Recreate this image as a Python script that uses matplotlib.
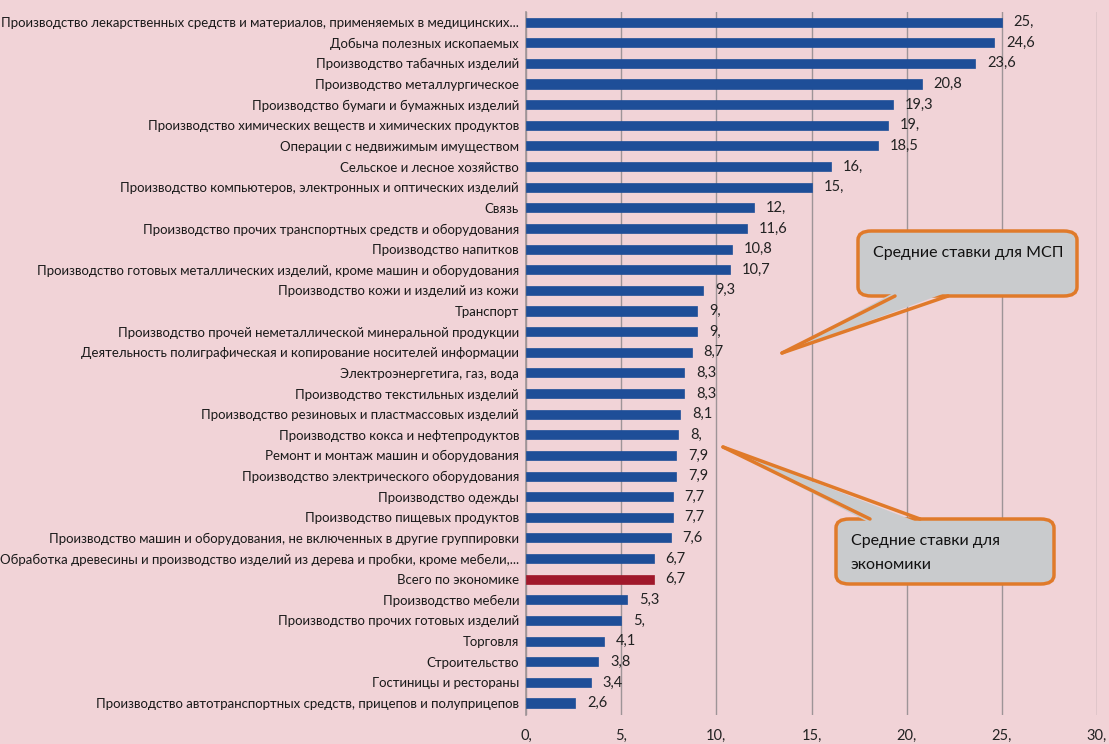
import matplotlib
matplotlib.use("Agg")
import matplotlib.pyplot as plt
import numpy as np
from matplotlib.patches import FancyBboxPatch, Polygon
from matplotlib.lines import Line2D

plt.rcParams['font.family'] = ['Lato', 'DejaVu Sans']

categories = [
    "Производство лекарственных средств и материалов, применяемых в медицинских...",
    "Добыча полезных ископаемых",
    "Производство табачных изделий",
    "Производство металлургическое",
    "Производство бумаги и бумажных изделий",
    "Производство химических веществ и химических продуктов",
    "Операции с недвижимым имуществом",
    "Сельское и лесное хозяйство",
    "Производство компьютеров, электронных и оптических изделий",
    "Связь",
    "Производство прочих транспортных средств и оборудования",
    "Производство напитков",
    "Производство готовых металлических изделий, кроме машин и оборудования",
    "Производство кожи и изделий из кожи",
    "Транспорт",
    "Производство прочей неметаллической минеральной продукции",
    "Деятельность полиграфическая и копирование носителей информации",
    "Электроэнергетига, газ, вода",
    "Производство текстильных изделий",
    "Производство резиновых и пластмассовых изделий",
    "Производство кокса и нефтепродуктов",
    "Ремонт и монтаж машин и оборудования",
    "Производство электрического оборудования",
    "Производство одежды",
    "Производство пищевых продуктов",
    "Производство машин и оборудования, не включенных в другие группировки",
    "Обработка древесины и производство изделий из дерева и пробки, кроме мебели,...",
    "Всего по экономике",
    "Производство мебели",
    "Производство прочих готовых изделий",
    "Торговля",
    "Строительство",
    "Гостиницы и рестораны",
    "Производство автотранспортных средств, прицепов и полуприцепов",
]
values = [25.0, 24.6, 23.6, 20.8, 19.3, 19.0, 18.5, 16.0, 15.0, 12.0, 11.6, 10.8,
          10.7, 9.3, 9.0, 9.0, 8.7, 8.3, 8.3, 8.1, 8.0, 7.9, 7.9, 7.7, 7.7, 7.6,
          6.7, 6.7, 5.3, 5.0, 4.1, 3.8, 3.4, 2.6]
highlight = "Всего по экономике"
xticks = [0, 5, 10, 15, 20, 25, 30]
xtick_labels = ["0,", "5,", "10,", "15,", "20,", "25,", "30,"]
callout_msp = "Средние ставки для МСП"
callout_econ = "Средние ставки для\nэкономики"

W, H = 1109, 744
BG = "#F1D3D7"
BLUE = "#1E4E98"
RED = "#A0182B"
GRID = "#9E9497"

fig = plt.figure(figsize=(W / 100, H / 100), dpi=100, facecolor=BG)
ax = fig.add_axes([526 / W, 1 - 715 / H, (1097 - 526) / W, (715 - 12) / H])
ax.set_facecolor(BG)

y = np.arange(len(categories))
colors = [RED if c == highlight else BLUE for c in categories]
ax.barh(y, values, height=0.44, color=colors, edgecolor=colors, linewidth=0.5, zorder=3)

def fmt(v):
    if float(v).is_integer():
        return f"{int(v)},"
    return f"{v}".replace(".", ",")

for yi, v in zip(y, values):
    ax.annotate(fmt(v), (v, yi), xytext=(8.5, 0), textcoords="offset points",
                va="center", ha="left", fontsize=10.5, color="#222222", zorder=4)

ax.set_xlim(0, 30)
ax.set_ylim(len(categories) - 1 + 0.58, -0.49)
ax.set_yticks(y)
ax.set_yticklabels(categories, fontsize=9.5, color="#1a1a1a")
ax.set_xticks(xticks)
ax.set_xticklabels(xtick_labels, fontsize=10.5, color="#222222")
ax.tick_params(axis="x", length=0, pad=10)
ax.tick_params(axis="y", length=0, pad=5)
ax.grid(axis="x", color=GRID, linewidth=1.0, zorder=0)
for s in ["top", "right", "bottom"]:
    ax.spines[s].set_visible(False)
ax.spines["left"].set_color(GRID)
ax.spines["left"].set_linewidth(1.2)


def px(x, yy):
    return (x / W, 1 - yy / H)


def callout(box, base, tip, text, text_xy, fs=11.5):
    x0, y0, x1, y1 = box
    (bx0, by), (bx1, _) = base
    rect = FancyBboxPatch(px(x0, y1), (x1 - x0) / W, (y1 - y0) / H,
                          boxstyle="round,pad=0,rounding_size=0.012",
                          transform=fig.transFigure, facecolor="#C9CBCD",
                          edgecolor="#E07A2A", linewidth=2.5, zorder=5)
    fig.patches.append(rect)
    inside = 4 if by >= y1 - 1 else -4
    poly = Polygon([px(bx0, by - inside), px(*tip), px(bx1, by - inside)],
                   closed=True, transform=fig.transFigure,
                   facecolor="#C9CBCD", edgecolor="none", zorder=6)
    fig.patches.append(poly)
    for bx in (bx0, bx1):
        p0, p1 = px(bx, by), px(*tip)
        fig.lines.append(Line2D([p0[0], p1[0]], [p0[1], p1[1]], transform=fig.transFigure,
                                color="#E07A2A", linewidth=2.5, zorder=7,
                                solid_capstyle="round"))
    fig.text(*px(*text_xy), text, fontsize=fs, color="#111111", ha="left", va="top",
             linespacing=1.95, zorder=8)

callout((858, 231, 1077, 296), ((895, 296), (948, 296)), (782, 353), callout_msp, (873, 246))
callout((836, 519, 1054, 584), ((870, 519), (920, 519)), (723, 447), callout_econ, (851, 534))

fig.savefig("out.png", dpi=100, facecolor=BG)
